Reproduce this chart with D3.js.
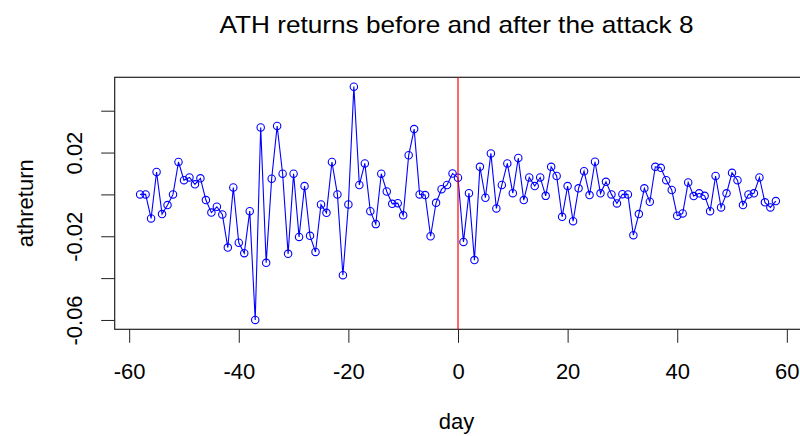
<!DOCTYPE html>
<html>
<head>
<meta charset="utf-8">
<script src="https://cdn.jsdelivr.net/npm/d3@7"></script>
<style>
  html, body { margin: 0; padding: 0; background: #fff; }
  svg { display: block; font-family: "Liberation Sans", Arial, sans-serif; }
</style>
</head>
<body>
<svg id="chart" width="800" height="436"></svg>
<script>
// Trading days relative to the event (day 0)
const days = [
  -58, -57, -56, -55, -54, -53, -52, -51, -50, -49, -48, -47, -46, -45, -44, -43, -42, -41, -40, -39,
  -38, -37, -36, -35, -34, -33, -32, -31, -30, -29, -28, -27, -26, -25, -24, -23, -22, -21, -20, -19,
  -18, -17, -16, -15, -14, -13, -12, -11, -10, -9, -8, -7, -6, -5, -4, -3, -2, -1, 0,
  1, 2, 3, 4, 5, 6, 7, 8, 9, 10, 11, 12, 13, 14, 15, 16, 17, 18, 19, 20,
  21, 22, 23, 24, 25, 26, 27, 28, 29, 30, 31, 32, 33, 34, 35, 36, 37, 38, 39, 40,
  41, 42, 43, 44, 45, 46, 47, 48, 49, 50, 51, 52, 53, 54, 55, 56, 57, 58
];

// Daily ATH returns
const athreturn = [
  0.0000, 0.0000, -0.0115, 0.0107, -0.0094, -0.0051, 0.0000, 0.0155, 0.0068, 0.0081,
  0.0048, 0.0077, -0.0027, -0.0087, -0.0059, -0.0096, -0.0254, 0.0033, -0.0231, -0.0281,
  -0.0080, -0.0600, 0.0320, -0.0327, 0.0075, 0.0327, 0.0099, -0.0284, 0.0099, -0.0203,
  0.0040, -0.0198, -0.0275, -0.0048, -0.0088, 0.0155, 0.0000, -0.0386, -0.0048, 0.0515,
  0.0045, 0.0148, -0.0080, -0.0142, 0.0099, 0.0014, -0.0045, -0.0042, -0.0100, 0.0187,
  0.0312, 0.0000, -0.0003, -0.0200, -0.0040, 0.0025, 0.0045, 0.0100, 0.0080,
  -0.0227, 0.0006, -0.0314, 0.0132, -0.0016, 0.0196, -0.0067, 0.0045, 0.0148, 0.0006,
  0.0174, -0.0027, 0.0081, 0.0040, 0.0081, -0.0007, 0.0132, 0.0088, -0.0107, 0.0040,
  -0.0128, 0.0029, 0.0111, -0.0003, 0.0156, 0.0005, 0.0060, 0.0000, -0.0043, 0.0001,
  0.0000, -0.0195, -0.0094, 0.0029, -0.0035, 0.0132, 0.0127, 0.0068, 0.0021, -0.0102,
  -0.0091, 0.0057, -0.0008, 0.0005, -0.0007, -0.0080, 0.0088, -0.0062, 0.0005, 0.0103,
  0.0068, -0.0051, 0.0000, 0.0005, 0.0081, -0.0038, -0.0062, -0.0032
];

const xTicks = [-60, -40, -20, 0, 20, 40, 60];
const yTicks = [-0.06, -0.04, -0.02, 0.00, 0.02, 0.04];
const yTickLabels = ["-0.06", "", "-0.02", "", "0.02", ""];
const eventDay = 0;

const titleText = "ATH returns before and after the attack 8";
const xLabel = "day";
const yLabel = "athreturn";

const points = days.map((d, i) => ({ day: d, value: athreturn[i] }));

// Plot region (axis ranges padded by 4% on each side)
const plot = { left: 114.7, right: 801.3, top: 77.3, bottom: 329.3 };

function padded(ext) {
  const pad = (ext[1] - ext[0]) * 0.04;
  return [ext[0] - pad, ext[1] + pad];
}

const x = d3.scaleLinear()
  .domain(padded(d3.extent(days)))
  .range([plot.left, plot.right]);

const y = d3.scaleLinear()
  .domain(padded(d3.extent(athreturn)))
  .range([plot.bottom, plot.top]);

const svg = d3.select("#chart");

// Title
svg.append("text")
  .attr("x", 456.5)
  .attr("y", 33.3)
  .attr("text-anchor", "middle")
  .attr("font-size", 24)
  .attr("textLength", 474)
  .attr("lengthAdjust", "spacingAndGlyphs")
  .attr("fill", "#000")
  .text(titleText);

// X axis
const xAxis = d3.axisBottom(x)
  .tickValues(xTicks)
  .tickSize(13.5)
  .tickPadding(0)
  .tickFormat(d3.format("d"));

const gx = svg.append("g")
  .attr("transform", `translate(0,${plot.bottom})`)
  .call(xAxis);
gx.select(".domain").remove();
gx.selectAll(".tick line").attr("stroke", "#222").attr("stroke-width", 1);
gx.selectAll(".tick text")
  .attr("font-size", 22)
  .attr("font-family", "'Liberation Sans', Arial, sans-serif")
  .attr("fill", "#000")
  .attr("dy", null)
  .attr("y", 49.7)
  .text(d => d < 0 ? "-" + Math.abs(d) : d);

// Y axis
const yAxis = d3.axisLeft(y)
  .tickValues(yTicks)
  .tickSize(13.5)
  .tickFormat((d, i) => yTickLabels[i]);

const gy = svg.append("g")
  .attr("transform", `translate(${plot.left},0)`)
  .call(yAxis);
gy.select(".domain").remove();
gy.selectAll(".tick line").attr("stroke", "#222").attr("stroke-width", 1);
gy.selectAll(".tick text")
  .attr("font-size", 22)
  .attr("font-family", "'Liberation Sans', Arial, sans-serif")
  .attr("fill", "#000")
  .attr("x", null)
  .attr("dy", null)
  .attr("text-anchor", "middle")
  .attr("transform", "translate(-32.5,0) rotate(-90)");

// Axis titles
svg.append("text")
  .attr("x", 456.5)
  .attr("y", 429)
  .attr("text-anchor", "middle")
  .attr("font-size", 22)
  .attr("fill", "#000")
  .text(xLabel);

svg.append("text")
  .attr("transform", `translate(33.3,${(plot.top + plot.bottom) / 2}) rotate(-90)`)
  .attr("text-anchor", "middle")
  .attr("font-size", 22)
  .attr("fill", "#000")
  .text(yLabel);

// Plot frame
svg.append("rect")
  .attr("x", plot.left)
  .attr("y", plot.top)
  .attr("width", plot.right - plot.left)
  .attr("height", plot.bottom - plot.top)
  .attr("fill", "none")
  .attr("stroke", "#222")
  .attr("stroke-width", 1.2);

// Return series: line with open circles
const line = d3.line()
  .x(d => x(d.day))
  .y(d => y(d.value));

svg.append("path")
  .datum(points)
  .attr("d", line)
  .attr("fill", "none")
  .attr("stroke", "#0000ff")
  .attr("stroke-width", 1.1);

svg.append("g")
  .selectAll("circle")
  .data(points)
  .join("circle")
  .attr("cx", d => x(d.day))
  .attr("cy", d => y(d.value))
  .attr("r", 3.7)
  .attr("fill", "none")
  .attr("stroke", "#0000ff")
  .attr("stroke-width", 1.1);

// Event marker
svg.append("line")
  .attr("x1", x(eventDay))
  .attr("x2", x(eventDay))
  .attr("y1", plot.top)
  .attr("y2", plot.bottom)
  .attr("stroke", "#ff0000")
  .attr("stroke-width", 1.2);
</script>
</body>
</html>
